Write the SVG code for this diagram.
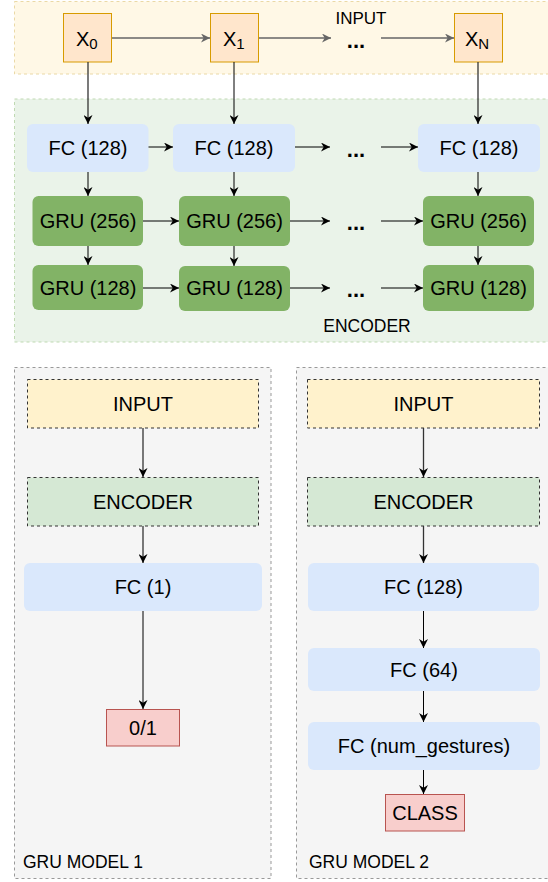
<svg xmlns="http://www.w3.org/2000/svg" width="548" height="882" viewBox="0 0 548 882">
<defs>
<marker id="ahk" viewBox="0 0 10 10" refX="10" refY="5" markerWidth="9" markerHeight="9" markerUnits="userSpaceOnUse" orient="auto">
<path d="M0,0 L10,5 L0,10 L3,5 Z" fill="#000"/>
</marker>
<marker id="ahg" viewBox="0 0 10 10" refX="10" refY="5" markerWidth="9" markerHeight="9" markerUnits="userSpaceOnUse" orient="auto">
<path d="M0,0 L10,5 L0,10 L3,5 Z" fill="#666"/>
</marker>
</defs>
<style>
text{font-family:"Liberation Sans",Arial,sans-serif;fill:#000;}
.t{font-size:20px;text-anchor:middle;}
.lbl{font-size:17.5px;}
.dots{font-size:22px;font-weight:bold;text-anchor:middle;}
.fc{fill:#dae8fc;}
.gru{fill:#82b366;}
.xb{fill:#ffe6cc;stroke:#d79b00;stroke-width:1;}
.out{fill:#f8cecc;stroke:#b85450;stroke-width:1;}
.cont{fill:#f5f5f5;stroke:#999;stroke-dasharray:3 3;}
.din{fill:#fff2cc;stroke:#333;stroke-dasharray:3 3;}
.den{fill:#d5e8d4;stroke:#333;stroke-dasharray:3 3;}
.c{fill:none;stroke:#000;stroke-width:1;marker-end:url(#ahk);}
.cg{fill:none;stroke:#666;stroke-width:1.3;marker-end:url(#ahg);}
.cd{fill:none;stroke:#333;stroke-width:1.3;marker-end:url(#ahk);}
</style>
<rect width="548" height="882" fill="#fff"/>
<!-- containers -->
<g id="input-container">
<rect x="14.5" y="1.5" width="540" height="72.5" fill="#fff8e6" stroke="#ead9a6" stroke-dasharray="3 3"/>
<text class="lbl" x="361" y="24" text-anchor="middle" style="font-size:17px">INPUT</text>
</g>
<g id="encoder-container">
<rect x="14.5" y="99" width="540" height="243" fill="#eaf3e9" stroke="#bfd9b2" stroke-dasharray="3 3"/>
<text class="lbl" x="367" y="332" text-anchor="middle" style="font-size:17.5px">ENCODER</text>
</g>
<g id="model1-container">
<rect x="14.5" y="367.5" width="256.5" height="511" class="cont"/>
<text class="lbl" x="23" y="868">GRU MODEL 1</text>
</g>
<g id="model2-container">
<rect x="296.5" y="367.5" width="260" height="511" class="cont"/>
<text class="lbl" x="309" y="868">GRU MODEL 2</text>
</g>
<!-- input nodes -->
<g id="x0"><rect x="63.5" y="13.5" width="48" height="48.5" class="xb"/><text x="76" y="45.5" style="font-size:20px">X<tspan dy="3" style="font-size:15px">0</tspan></text></g>
<g id="x1"><rect x="210.5" y="13.5" width="48" height="48.5" class="xb"/><text x="223" y="45.5" style="font-size:20px">X<tspan dy="3" style="font-size:15px">1</tspan></text></g>
<g id="xn"><rect x="454.5" y="13.5" width="48" height="48.5" class="xb"/><text x="465" y="45.5" style="font-size:20px">X<tspan dy="3" style="font-size:15px">N</tspan></text></g>
<g id="input-dots"><text class="dots" x="356" y="48">...</text></g>
<!-- encoder nodes -->
<g id="fc1"><rect x="27" y="124" width="121.5" height="48" rx="6" class="fc"/><text class="t" x="88" y="155">FC (128)</text></g>
<g id="fc2"><rect x="173" y="124" width="122" height="48" rx="6" class="fc"/><text class="t" x="234" y="155">FC (128)</text></g>
<g id="fcn"><rect x="418" y="124" width="122" height="48" rx="6" class="fc"/><text class="t" x="479" y="155">FC (128)</text></g>
<g id="fc-dots"><text class="dots" x="356" y="157">...</text></g>
<g id="gru256-1"><rect x="32.5" y="196" width="110.5" height="50" rx="6" class="gru"/><text class="t" x="88" y="228">GRU (256)</text></g>
<g id="gru256-2"><rect x="179" y="196" width="111" height="50" rx="6" class="gru"/><text class="t" x="234.5" y="228">GRU (256)</text></g>
<g id="gru256-n"><rect x="423" y="196" width="111" height="50" rx="6" class="gru"/><text class="t" x="478.5" y="228">GRU (256)</text></g>
<g id="gru256-dots"><text class="dots" x="356" y="230">...</text></g>
<g id="gru128-1"><rect x="32.5" y="265" width="110.5" height="45" rx="6" class="gru"/><text class="t" x="88" y="294.5">GRU (128)</text></g>
<g id="gru128-2"><rect x="179" y="266" width="111" height="45" rx="6" class="gru"/><text class="t" x="234.5" y="295">GRU (128)</text></g>
<g id="gru128-n"><rect x="423" y="265" width="111" height="46" rx="6" class="gru"/><text class="t" x="478.5" y="295">GRU (128)</text></g>
<g id="gru128-dots"><text class="dots" x="356" y="297">...</text></g>
<!-- model 1 -->
<g id="m1-input"><rect x="27.5" y="379.5" width="231" height="48.5" class="din"/><text class="t" x="143" y="410.5">INPUT</text></g>
<g id="m1-encoder"><rect x="27.5" y="477.5" width="231" height="48.5" class="den"/><text class="t" x="143" y="508.5">ENCODER</text></g>
<g id="m1-fc"><rect x="24" y="563" width="238" height="48" rx="6" class="fc"/><text class="t" x="143" y="594">FC (1)</text></g>
<g id="m1-out"><rect x="106.5" y="709.5" width="73" height="36.5" class="out"/><text class="t" x="143" y="734.5">0/1</text></g>
<!-- model 2 -->
<g id="m2-input"><rect x="307.5" y="379.5" width="232" height="48.5" class="din"/><text class="t" x="423.5" y="410.5">INPUT</text></g>
<g id="m2-encoder"><rect x="307.5" y="477.5" width="232" height="48.5" class="den"/><text class="t" x="423.5" y="508.5">ENCODER</text></g>
<g id="m2-fc128"><rect x="308" y="563" width="231" height="48" rx="6" class="fc"/><text class="t" x="423.5" y="594">FC (128)</text></g>
<g id="m2-fc64"><rect x="308" y="648" width="232" height="43" rx="6" class="fc"/><text class="t" x="424" y="676.5">FC (64)</text></g>
<g id="m2-fcnum"><rect x="308" y="722" width="232" height="48" rx="6" class="fc"/><text class="t" x="424" y="753">FC (num_gestures)</text></g>
<g id="m2-class"><rect x="385.5" y="794.5" width="79" height="36.5" class="out"/><text class="t" x="425" y="819.5">CLASS</text></g>
<!-- connectors -->
<g id="connectors">
<path class="cg" d="M112,38 H210"/>
<path class="cg" d="M259,38 H331"/>
<path class="cg" d="M381,38 H454"/>
<path class="cd" d="M88,62 V124"/>
<path class="c" d="M234,62 V124"/>
<path class="cd" d="M478,62 V124"/>
<path class="c" d="M148.5,147 H173"/>
<path class="c" d="M295,147 H330"/>
<path class="c" d="M381,147 H418"/>
<path class="c" d="M88,172 V196"/>
<path class="c" d="M234,172 V196"/>
<path class="c" d="M478,172 V196"/>
<path class="c" d="M143,221 H179"/>
<path class="c" d="M290,221 H330"/>
<path class="c" d="M381,221 H423"/>
<path class="c" d="M88,246 V265"/>
<path class="c" d="M234,246 V266"/>
<path class="c" d="M478,246 V265"/>
<path class="c" d="M143,288 H179"/>
<path class="c" d="M290,288 H330"/>
<path class="c" d="M381,288 H423"/>
<path class="cd" d="M143,428 V477"/>
<path class="cd" d="M143,526 V563"/>
<path class="c" d="M143,611 V709"/>
<path class="cd" d="M423.5,428 V477"/>
<path class="cd" d="M423.5,526 V563"/>
<path class="c" d="M423.5,611 V648"/>
<path class="c" d="M423.5,691 V722"/>
<path class="c" d="M423.5,770 V794"/>
</g>
</svg>
